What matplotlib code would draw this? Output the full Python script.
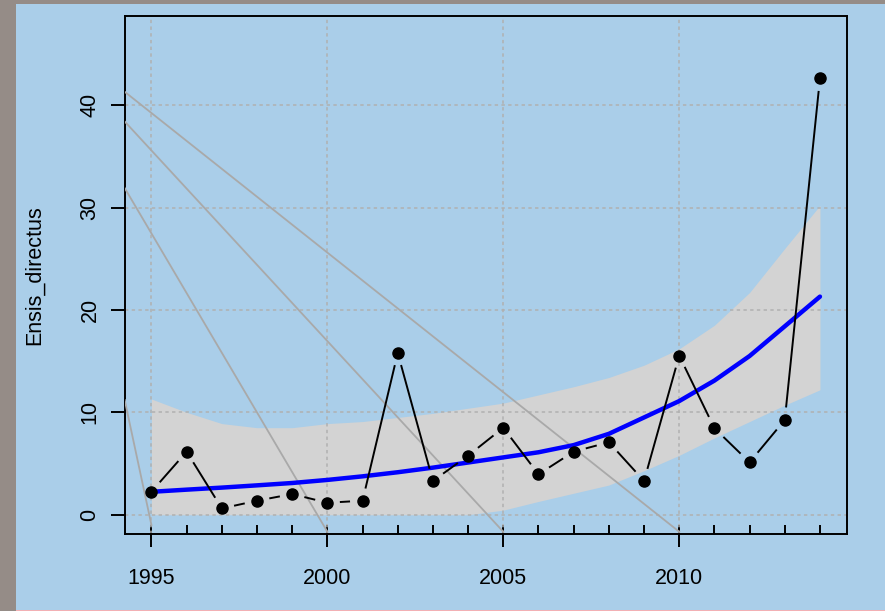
import matplotlib
matplotlib.use("Agg")
import matplotlib.pyplot as plt
import numpy as np
from matplotlib.patches import Rectangle

# observed counts per year
years = np.arange(1995, 2015)
counts = [2.25, 6.16, 0.62, 1.37, 2.02, 1.17, 1.37, 15.8, 3.3, 5.77,
          8.5, 3.95, 6.16, 7.08, 3.3, 15.54, 8.45, 5.12, 9.26, 42.6]

# fitted trend and its band
fit = [2.24, 2.45, 2.65, 2.87, 3.1, 3.4, 3.75, 4.15, 4.6, 5.1,
       5.6, 6.1, 6.8, 7.9, 9.5, 11.1, 13.1, 15.5, 18.4, 21.3]
band_hi = [11.3, 10.0, 8.9, 8.5, 8.5, 8.9, 9.1, 9.5, 9.9, 10.4,
           10.9, 11.7, 12.5, 13.4, 14.6, 16.2, 18.5, 21.7, 26.0, 30.2]
band_lo = [0, 0, 0, 0, 0, 0, 0, 0, 0, 0,
           0.45, 1.3, 2.1, 2.9, 4.3, 5.8, 7.5, 9.1, 10.7, 12.2]

# grey reference lines: (start at left edge, end year, end value)
ref_start_y = [41.3, 38.4, 31.9, 11.2]
ref_end_x = [2010, 2005, 2000, 1995]
ref_end_y = [-1.66, -1.66, -1.66, -1.0]

xticks = [1995, 2000, 2005, 2010]
yticks = [0, 10, 20, 30, 40]
ylabel = "Ensis_directus"

xlim = (1994.24, 2014.76)
ylim = (-1.88, 48.7)

plt.rcParams["font.family"] = ["Liberation Sans", "DejaVu Sans"]

W, H = 885, 611
fig = plt.figure(figsize=(W / 100, H / 100), dpi=100, facecolor="#958c87")
fig.patches.append(Rectangle((16 / W, 0), 1 - 16 / W, 1 - 4 / H, transform=fig.transFigure,
                             facecolor="#aacee9", edgecolor="none", zorder=-10))
fig.patches.append(Rectangle((16 / W, 0), 1 - 16 / W, 1.5 / H, transform=fig.transFigure,
                             facecolor="#f2b0b4", edgecolor="none", zorder=-9))

ax = fig.add_axes([124.7 / W, 1 - 534 / H, 722 / W, 518 / H])
ax.set_facecolor("none")
ax.set_xlim(*xlim)
ax.set_ylim(*ylim)

ax.fill_between(years, band_lo, band_hi, color="#d3d3d3", lw=0, zorder=1)

for g in xticks:
    ax.axvline(g, color="#b0b0b0", lw=1.1, ls=(0, (2.2, 2.2)), zorder=2)
for g in yticks:
    ax.axhline(g, color="#b0b0b0", lw=1.1, ls=(0, (2.2, 2.2)), zorder=2)

for y0, x1, y1 in zip(ref_start_y, ref_end_x, ref_end_y):
    ax.plot([xlim[0], x1], [y0, y1], color="#a9a9a9", lw=1.3, zorder=3)

ax.plot(years, fit, color="#0000ff", lw=3.2, zorder=4, solid_capstyle="round")

# type="b": points joined by segments that stop short of each point
pts = ax.transData.transform(np.column_stack([years, counts]))
gap = 13.5 * fig.dpi / 100
inv = ax.transData.inverted()
for p, q in zip(pts[:-1], pts[1:]):
    d = q - p
    L = np.hypot(*d)
    if L <= 2 * gap:
        continue
    u = d / L
    a, b = inv.transform([p + u * gap, q - u * gap])
    ax.plot([a[0], b[0]], [a[1], b[1]], color="black", lw=1.4, zorder=5)
ax.plot(years, counts, "o", color="black", ms=8, zorder=6)

for s in ax.spines.values():
    s.set_linewidth(1.4)

ax.set_xticks(xticks, [str(t) for t in xticks], fontsize=15.5)
ax.set_xticks(years, minor=True)
ax.xaxis.remove_overlapping_locs = False
ax.tick_params(axis="x", which="major", direction="out", length=9.4, width=1.4, pad=15)
ax.tick_params(axis="x", which="minor", direction="in", length=6.5, width=1.4)
ax.set_yticks(yticks, [str(t) for t in yticks], fontsize=15.5, rotation=90, va="center")
ax.tick_params(axis="y", which="major", direction="out", length=10, width=1.4, pad=7.4)

ax.set_ylabel(ylabel, fontsize=15.5)
ax.yaxis.set_label_coords(-0.111, 0.5)

fig.savefig("out.png", dpi=100, facecolor=fig.get_facecolor())
